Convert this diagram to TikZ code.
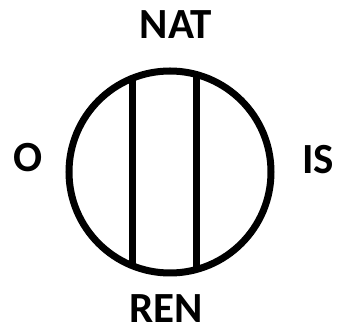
\documentclass[tikz,border=0pt]{standalone}
\usepackage{fontspec}
\setmainfont{Carlito}
\usetikzlibrary{calc}

\begin{document}
\begin{tikzpicture}[x=1pt, y=1pt,
  lbl/.style={inner sep=0pt, font=\fontsize{43}{46}\selectfont\bfseries},
  ring/.style={draw, circle, line width=7pt, minimum size=202pt, inner sep=0pt, outer sep=0pt},
  chord/.style={line width=7pt}]
\useasboundingbox (0,0) rectangle (348,334);
\node[ring] (disc) at (170,162) {};
\draw[chord] (disc.112.1) -- (disc.-112.1);
\draw[chord] (disc.75.7) -- (disc.-75.7);
\node[lbl] (nat) at (176,309) {NAT};
\node[lbl] (ren) at (166,25) {REN};
\node[lbl] (o) at (28,176) {O};
\node[lbl] (is) at (318,174) {IS};
\end{tikzpicture}
\end{document}
